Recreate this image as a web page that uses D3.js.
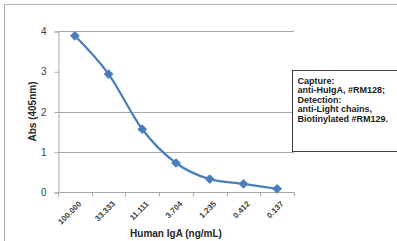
<!DOCTYPE html>
<html>
<head>
<meta charset="utf-8">
<script src="https://cdn.jsdelivr.net/npm/d3@7"></script>
<style>
  body { margin: 0; background: #fff; }
  svg { display: block; font-family: "Liberation Sans", Arial, sans-serif; }
</style>
</head>
<body>
<div id="chart-area"></div>
<script>
// data
const concentrations = ["100.000", "33.333", "11.111", "3.704", "1.235", "0.412", "0.137"]
const absorbance = [3.88, 2.93, 1.56, 0.72, 0.32, 0.2, 0.08]
const yTicks = [0, 1, 2, 3, 4]
const gridValues = [1, 2, 4]
const legendLines = ["Capture:", "anti-HuIgA, #RM128;", "Detection:", "anti-Light chains,", "Biotinylated #RM129."]

const W = 397, H = 241
const MARGIN = { LEFT: 58, TOP: 31, RIGHT: 103, BOTTOM: 49 }
const WIDTH = W - MARGIN.LEFT - MARGIN.RIGHT
const HEIGHT = H - MARGIN.TOP - MARGIN.BOTTOM

const svg = d3.select("#chart-area").append("svg")
	.attr("width", W)
	.attr("height", H)

// outer chart frame (runs off the right and bottom)
svg.append("rect")
	.attr("x", 4.5).attr("y", 4.5)
	.attr("width", 400).attr("height", 250)
	.attr("fill", "#fff")
	.attr("stroke", "#b0b0b0")

const g = svg.append("g")
	.attr("transform", `translate(${MARGIN.LEFT}, ${MARGIN.TOP})`)

const x = d3.scaleBand()
	.domain(concentrations)
	.range([0, WIDTH])
const y = d3.scaleLinear()
	.domain([0, 4])
	.range([HEIGHT, 0])

// gridlines
g.selectAll(".grid")
	.data(gridValues)
	.enter().append("line")
	.attr("class", "grid")
	.attr("x1", 0).attr("x2", WIDTH)
	.attr("y1", d => Math.round(y(d)) + 0.5)
	.attr("y2", d => Math.round(y(d)) + 0.5)
	.attr("stroke", "#a6a6a6")

// Y Axis
const yAxis = g.append("g")
	.attr("transform", "translate(0.5, 0.5)")
	.call(d3.axisLeft(y).tickValues(yTicks).tickFormat(d3.format("d")).tickSize(4).tickPadding(8))
yAxis.select(".domain").attr("stroke", "#a6a6a6")
yAxis.selectAll("line").attr("stroke", "#a6a6a6")
yAxis.selectAll("text").attr("fill", "#404040").attr("font-size", "10px")

// X Axis - ticks at category boundaries
const xAxis = g.append("g")
	.attr("transform", `translate(0, ${Math.round(HEIGHT) + 0.5})`)
xAxis.append("line")
	.attr("x1", 0).attr("x2", WIDTH)
	.attr("stroke", "#a6a6a6")
xAxis.selectAll(".tick")
	.data(d3.range(concentrations.length + 1))
	.enter().append("line")
	.attr("x1", i => Math.round(i * x.step()) + 0.5)
	.attr("x2", i => Math.round(i * x.step()) + 0.5)
	.attr("y1", 0).attr("y2", 4)
	.attr("stroke", "#a6a6a6")
xAxis.selectAll(".lbl")
	.data(concentrations)
	.enter().append("text")
	.attr("transform", d => `translate(${x(d) + x.bandwidth() / 2 + 3}, 8) rotate(-45)`)
	.attr("text-anchor", "end")
	.attr("font-size", "8px")
	.attr("font-weight", "bold")
	.attr("fill", "#404040")
	.attr("dy", "0.7em")
	.text(d => d)

// axis titles
g.append("text")
	.attr("x", WIDTH / 2)
	.attr("y", HEIGHT + 45)
	.attr("text-anchor", "middle")
	.attr("font-size", "10px")
	.attr("font-weight", "bold")
	.attr("fill", "#262626")
	.text("Human IgA (ng/mL)")

g.append("text")
	.attr("transform", "rotate(-90)")
	.attr("x", -HEIGHT / 2)
	.attr("y", -22)
	.attr("text-anchor", "middle")
	.attr("font-size", "10px")
	.attr("font-weight", "bold")
	.attr("fill", "#262626")
	.text("Abs (405nm)")

// series
const line = d3.line()
	.x(d => x(d.c) + x.bandwidth() / 2)
	.y(d => y(d.v))
	.curve(d3.curveMonotoneX)
const points = concentrations.map((c, i) => ({ c: c, v: absorbance[i] }))

g.append("path")
	.datum(points)
	.attr("d", line)
	.attr("fill", "none")
	.attr("stroke", "#4a7ebb")
	.attr("stroke-width", 2.25)

g.selectAll(".marker")
	.data(points)
	.enter().append("path")
	.attr("class", "marker")
	.attr("d", d3.symbol(d3.symbolDiamond2, 60))
	.attr("transform", d => `translate(${x(d.c) + x.bandwidth() / 2}, ${y(d.v)})`)
	.attr("fill", "#4a7ebb")

// legend / note box
const box = svg.append("g").attr("transform", "translate(292.5, 70.5)")
box.append("rect")
	.attr("width", 120).attr("height", 81)
	.attr("fill", "#fff")
	.attr("stroke", "#404040")
box.selectAll("text")
	.data(legendLines)
	.enter().append("text")
	.attr("x", 5)
	.attr("y", (d, i) => 13 + i * 9.6)
	.attr("font-size", "9px")
	.attr("font-weight", "bold")
	.attr("fill", "#1a1a1a")
	.text(d => d)
</script>
</body>
</html>
